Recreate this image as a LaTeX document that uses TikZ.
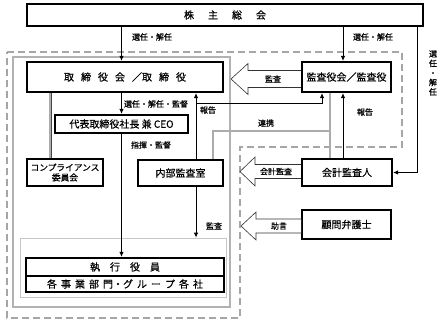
\documentclass[tikz,border=0pt]{standalone}
\usepackage{fontspec}
\setmainfont{Noto Sans CJK JP}[FakeBold=0.6]
\usetikzlibrary{arrows.meta,calc}
\begin{document}
\begin{tikzpicture}[x=1pt,y=-1pt,
  box/.style={draw=black,line width=2.2pt,fill=white,inner sep=0pt,font=\fontsize{10}{12}\selectfont},
  arr/.style={line width=0.9pt,-{Latex[length=5pt,width=4.5pt]}},
  plain/.style={line width=0.9pt},
  link/.style={draw=gray!55!black,double=gray!65,double distance=1.4pt,line width=0.5pt},
  lbl/.style={inner sep=0pt,font=\fontsize{8}{10}\selectfont},
  harrow/.style={draw=black!80,line width=0.6pt,fill=white,line join=miter}
]
\useasboundingbox (0,0) rectangle (447,325);
% frames
\draw[gray!70,line width=1.3pt,dash pattern=on 7pt off 4pt]
  (7,52) -- (402,52) -- (402,147) -- (240,147) -- (240,318) -- (7,318) -- cycle;
\draw[gray!60,line width=1.2pt] (13,57) rectangle (230,307);
\node[draw=gray!45,line width=0.8pt,minimum width=206pt,minimum height=59pt,inner sep=0pt] (exec) at (123,267.5) {};
% boxes
\node[box,minimum width=396pt,minimum height=22pt] (kabu) at (225,15) {株\hspace{14pt}主\hspace{14pt}総\hspace{14pt}会};
\node[box,minimum width=196pt,minimum height=30pt] (tori) at (125,77) {取\hspace{7pt}締\hspace{7pt}役\hspace{7pt}会\hspace{7pt}／取\hspace{7pt}締\hspace{7pt}役};
\node[box,minimum width=89pt,minimum height=30pt] (kansa) at (346.5,77) {監査役会／監査役};
\node[box,minimum width=133pt,minimum height=18pt] (ceo) at (121.5,124) {代表取締役社長 兼 CEO};
\node[box,minimum width=76pt,minimum height=27pt,align=center,font=\fontsize{8.7}{10}\selectfont] (comp) at (65,172.5) {コンプライアンス\\委員会};
\node[box,minimum width=85pt,minimum height=26pt] (naibu) at (180.5,173) {内部監査室};
\node[box,minimum width=90pt,minimum height=27pt] (kaikei) at (347,172.5) {会計監査人};
\node[box,minimum width=89pt,minimum height=29pt,line width=1.6pt] (komon) at (346.5,224.5) {顧問弁護士};
\node[box,minimum width=198pt,minimum height=18pt] (shikko) at (125,267) {執\hspace{10pt}行\hspace{10pt}役\hspace{10pt}員};
\node[box,minimum width=198pt,minimum height=16pt] (jigyo) at (125,284) {各\hspace{4pt}事\hspace{4pt}業\hspace{4pt}部\hspace{4pt}門・グ\hspace{4pt}ル\hspace{4pt}ー\hspace{4pt}プ\hspace{4pt}各\hspace{4pt}社};
% helper x positions
\coordinate (xr) at (343,0);
\coordinate (xrr) at (417,0);
\coordinate (xc) at (50,0);
\coordinate (xn) at (196,0);
\coordinate (xl) at (213,0);
\coordinate (xd) at (330,0);
\coordinate (xk) at (322,0);
\coordinate (yb) at (0,103);
\coordinate (yl) at (0,131);
% connectors
\draw[arr] (ceo.north |- kabu.south) -- (ceo.north |- tori.north);
\draw[arr] (xr |- kabu.south) -- (xr |- kansa.north);
\draw[arr] (xrr |- kabu.south) |- (kaikei.east);
\draw[arr] (ceo.north |- tori.south) -- (ceo.north);
\draw[arr] (ceo.south) -- (ceo.south |- shikko.north);
\draw[link,double distance=2pt] (xc |- tori.south) -- (xc |- comp.north);
\draw[arr] (xn |- naibu.north) -- (xn |- tori.south);
\draw[arr] (xn |- yb) -| (xk |- kansa.south);
\draw[link] (xl |- naibu.north) |- (xd |- yl);
\draw[link] (xd |- kansa.south) -- (xd |- kaikei.north);
\draw[arr] (xr |- kaikei.north) -- (xr |- kansa.south);
\draw[arr] (xn |- naibu.south) -- (xn |- exec.north);
% hollow arrows
\draw[harrow] (kansa.west |- 0,70.5) -- (248,70.5) -- (248,63.5) -- (231,79) -- (248,94.5) -- (248,87.5) -- (kansa.west |- 0,87.5);
\draw[harrow] (kaikei.west |- 0,164.5) -- (255,164.5) -- (255,157) -- (240,171.5) -- (255,186) -- (255,178.5) -- (kaikei.west |- 0,178.5);
\draw[harrow] (komon.west |- 0,219) -- (256,219) -- (256,212) -- (241,226) -- (256,240) -- (256,233) -- (komon.west |- 0,233);
% labels
\node[lbl] (l1) at (152,37) {選任・解任};
\node[lbl] (l2) at (373,37) {選任・解任};
\node[lbl] (l3) at (273,79) {監査};
\node[lbl] (l4) at (156,104) {選任・解任・監督};
\node[lbl] (l5) at (208,110) {報告};
\node[lbl] (l6) at (365,112) {報告};
\node[lbl] (l7) at (266,123) {連携};
\node[lbl] (l8) at (151,145) {指揮・監督};
\node[lbl] (l9) at (276,171.5) {会計監査};
\node[lbl] (l10) at (279,226) {助言};
\node[lbl] (l11) at (214,226) {監査};
\node[lbl,align=center,font=\fontsize{8}{9.5}\selectfont] (l12) at (433,73) {選\\任\\・\\解\\任};
\end{tikzpicture}
\end{document}
